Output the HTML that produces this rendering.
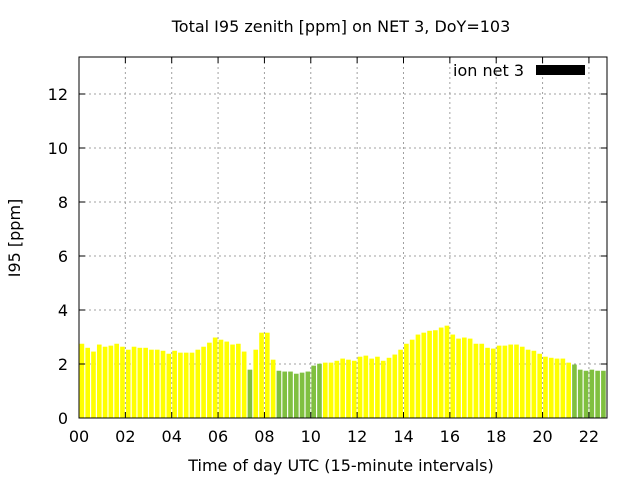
<!DOCTYPE html>
<html><head><meta charset="utf-8"><style>
body{margin:0;background:#fff}
svg text{font-family:"DejaVu Sans","Liberation Sans",sans-serif;font-size:16px;fill:#000}
</style></head><body>
<svg id="chart" width="640" height="480" xmlns="http://www.w3.org/2000/svg">
<rect width="640" height="480" fill="#fff"/>
<text x="341" y="32" text-anchor="middle">Total I95 zenith [ppm] on NET 3, DoY=103</text>
<text x="341" y="471" text-anchor="middle">Time of day UTC (15-minute intervals)</text>
<text transform="translate(20,238) rotate(-90)" text-anchor="middle">I95 [ppm]</text>
<g id="grid"></g><g id="bars"></g><g id="axes"></g>
<text x="524" y="76" text-anchor="end">ion net 3</text>
<rect x="536" y="65" width="49" height="10" fill="#000"/>
</svg>
<script>
const values=[2.75,2.6,2.46,2.72,2.64,2.68,2.75,2.64,2.53,2.64,2.6,2.6,2.53,2.53,2.49,2.38,2.49,2.42,2.42,2.42,2.53,2.64,2.79,2.98,2.9,2.83,2.72,2.75,2.46,1.79,2.53,
3.16,3.16,2.16,1.75,1.72,1.72,1.64,1.68,1.72,1.94,2.01,2.05,2.05,2.12,2.2,2.16,2.12,2.27,2.31,2.2,2.27,2.12,2.23,2.35,2.53,2.75,2.9,3.09,3.16,3.23,
3.25,3.35,3.42,3.09,2.94,2.98,2.94,2.75,2.75,2.6,2.57,2.68,2.68,2.72,2.72,2.64,2.53,2.49,2.38,2.27,2.23,2.2,2.2,2.05,1.98,1.79,1.75,1.79,1.75,1.75,1.79];
const greenFlags=[0,0,0,0,0,0,0,0,0,0,0,0,0,0,0,0,0,0,0,0,0,0,0,0,0,0,0,0,0,1,0,
0,0,0,1,1,1,1,1,1,1,1,0,0,0,0,0,0,0,0,0,0,0,0,0,0,0,0,0,0,0,
0,0,0,0,0,0,0,0,0,0,0,0,0,0,0,0,0,0,0,0,0,0,0,0,1,1,1,1,1,1,1];
const xTicks=[0,2,4,6,8,10,12,14,16,18,20,22];
const xTickLabels=["00","02","04","06","08","10","12","14","16","18","20","22"];
const yTicks=[0,2,4,6,8,10,12];
const L=79,R=607,T=57,B=418,XMAX=22.78,YMAX=13.37;
const xs=h=>L+h/XMAX*(R-L), ys=v=>B-v/YMAX*(B-T);
const NS="http://www.w3.org/2000/svg";
function mk(p,tag,a){const e=document.createElementNS(NS,tag);for(const k in a)e.setAttribute(k,a[k]);p.appendChild(e);return e;}
const grid=document.getElementById('grid'),bars=document.getElementById('bars'),axes=document.getElementById('axes');
xTicks.forEach((t,i)=>{const x=xs(t);
 if(i>0){const g=mk(grid,'line',{x1:x,x2:x,y1:T,y2:B,stroke:'#a0a0a0','stroke-dasharray':'2,3'});
 
 }
 mk(axes,'line',{x1:x,x2:x,y1:B,y2:B-6,stroke:'#000'});mk(axes,'line',{x1:x,x2:x,y1:T,y2:T+6,stroke:'#000'});
 const tx=mk(axes,'text',{x:x,y:B+24,'text-anchor':'middle'});tx.textContent=xTickLabels[i];
 
 });
yTicks.forEach(v=>{const y=ys(v);
 if(v>0){const g=mk(grid,'line',{x1:L,x2:R,y1:y,y2:y,stroke:'#a0a0a0','stroke-dasharray':'2,3'});
 
 }
 mk(axes,'line',{x1:L,x2:L+6,y1:y,y2:y,stroke:'#000'});mk(axes,'line',{x1:R,x2:R-6,y1:y,y2:y,stroke:'#000'});
 const tx=mk(axes,'text',{x:L-11,y:y+6,'text-anchor':'end'});tx.textContent=v;
 
 });
const bw=(xs(0.25)-xs(0))*0.8;
values.forEach((v,i)=>{const cx=xs(i*0.25+0.125);const x0=cx-bw/2;if(x0>=R)return;
 const r=mk(bars,'rect',{x:x0,y:ys(v),width:Math.min(bw,R-x0),height:B-ys(v),fill:greenFlags[i]?'#80c040':'#ffff00'});
 
 });
mk(axes,'rect',{x:L,y:T,width:R-L,height:B-T,fill:'none',stroke:'#000'});
</script>
</body></html>
